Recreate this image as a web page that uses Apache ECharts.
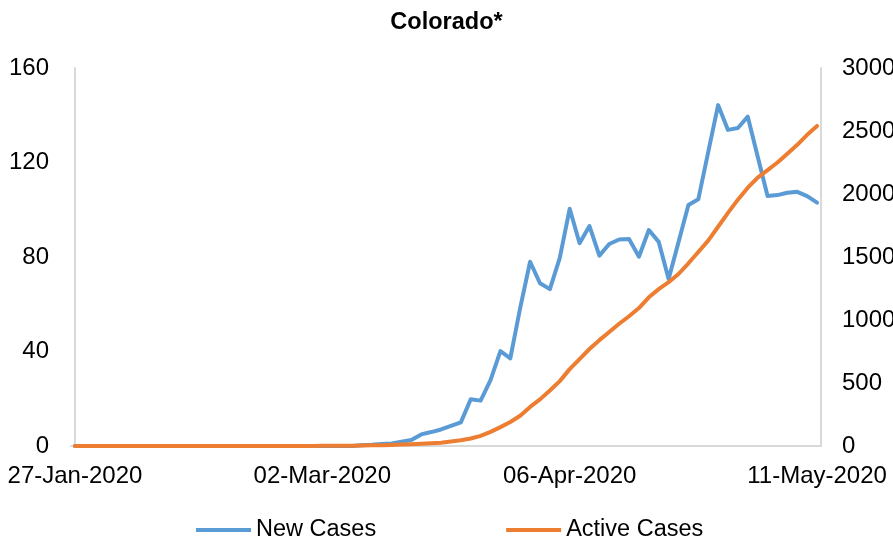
<!DOCTYPE html>
<html>
<head>
<meta charset="utf-8">
<script src="https://cdn.jsdelivr.net/npm/echarts@6/dist/echarts.min.js"></script>
<style>
  html, body { margin: 0; padding: 0; background: #fff; }
  #chart { width: 893px; height: 545px; }
</style>
</head>
<body>
<div id="chart"></div>
<script>
// weekday dates, 27-Jan-2020 .. 11-May-2020
var dates = [
  '27-Jan-2020','28-Jan-2020','29-Jan-2020','30-Jan-2020','31-Jan-2020',
  '03-Feb-2020','04-Feb-2020','05-Feb-2020','06-Feb-2020','07-Feb-2020',
  '10-Feb-2020','11-Feb-2020','12-Feb-2020','13-Feb-2020','14-Feb-2020',
  '17-Feb-2020','18-Feb-2020','19-Feb-2020','20-Feb-2020','21-Feb-2020',
  '24-Feb-2020','25-Feb-2020','26-Feb-2020','27-Feb-2020','28-Feb-2020',
  '02-Mar-2020','03-Mar-2020','04-Mar-2020','05-Mar-2020','06-Mar-2020',
  '09-Mar-2020','10-Mar-2020','11-Mar-2020','12-Mar-2020','13-Mar-2020',
  '16-Mar-2020','17-Mar-2020','18-Mar-2020','19-Mar-2020','20-Mar-2020',
  '23-Mar-2020','24-Mar-2020','25-Mar-2020','26-Mar-2020','27-Mar-2020',
  '30-Mar-2020','31-Mar-2020','01-Apr-2020','02-Apr-2020','03-Apr-2020',
  '06-Apr-2020','07-Apr-2020','08-Apr-2020','09-Apr-2020','10-Apr-2020',
  '13-Apr-2020','14-Apr-2020','15-Apr-2020','16-Apr-2020','17-Apr-2020',
  '20-Apr-2020','21-Apr-2020','22-Apr-2020','23-Apr-2020','24-Apr-2020',
  '27-Apr-2020','28-Apr-2020','29-Apr-2020','30-Apr-2020','01-May-2020',
  '04-May-2020','05-May-2020','06-May-2020','07-May-2020','08-May-2020',
  '11-May-2020'
];

// which dates get a label on the x axis
var labelIdx = [0, 25, 50, 75];

var newCases = [
  0, 0, 0, 0, 0, 0, 0, 0, 0, 0,
  0, 0, 0, 0, 0, 0, 0, 0, 0, 0,
  0, 0, 0, 0, 0, 0, 0, 0, 0, 0.3,
  0.5, 0.8, 1.1, 1.8, 2.5, 4.9, 5.9, 7.0, 8.5, 10.0,
  19.8, 19.2, 27.9, 40.2, 37.1, 58.5, 78.0, 68.9, 66.4, 79.6,
  100.4, 85.8, 93.1, 80.6, 85.5, 87.4, 87.6, 80.1, 91.4, 86.4,
  70.7, 86.3, 102.0, 104.4, 124.4, 144.3, 133.8, 134.6, 139.4, 122.5,
  105.8, 106.2, 107.2, 107.6, 105.8, 103.0
];

var activeCases = [
  0, 0, 0, 0, 0, 0, 0, 0, 0, 0,
  0, 0, 0, 0, 0, 0, 0, 0, 0, 0,
  0, 0, 0, 0, 0, 1, 1, 2, 2, 3,
  5, 6, 8, 11, 14, 17, 21, 26, 35, 45,
  60, 80, 112, 150, 190, 240, 310, 370, 440, 515,
  610, 690, 770, 840, 905, 970, 1030, 1095, 1180, 1245,
  1300, 1365, 1450, 1540, 1630, 1740, 1850, 1955, 2050, 2130,
  2190, 2250, 2320, 2390, 2470, 2540
];

var font = 'Liberation Sans, Arial, sans-serif';
var chart = echarts.init(document.getElementById('chart'));

var option = {
    animation: false,
    textStyle: { fontFamily: font },
    title: {
        text: 'Colorado*',
        left: 'center',
        top: 6,
        textStyle: { fontFamily: font, fontSize: 23.5, fontWeight: 'bold', color: '#000' }
    },
    legend: {
        left: 196,
        top: 518,
        padding: 0,
        icon: 'rect',
        itemWidth: 55,
        itemHeight: 4,
        itemGap: 130,
        textStyle: { fontFamily: font, fontSize: 23.5, color: '#000' },
        data: ['New Cases', 'Active Cases']
    },
    grid: { left: 71, right: 72, top: 68, bottom: 99, outerBoundsMode: 'none', containLabel: false },
    xAxis: {
        type: 'value',
        min: -0.4,
        max: 75.4,
        axisLine: { show: true, lineStyle: { color: '#d9d9d9', width: 2 } },
        axisTick: { show: false },
        splitLine: { show: false },
        axisLabel: {
            customValues: labelIdx,
            margin: 18,
            fontFamily: font,
            fontSize: 24,
            color: '#000',
            formatter: function (v) { return dates[Math.round(v)]; }
        }
    },
    yAxis: [
        {
            type: 'value',
            min: 0,
            max: 160,
            interval: 40,
            axisLine: { show: true, lineStyle: { color: '#d9d9d9', width: 2 } },
            axisTick: { show: false },
            splitLine: { show: false },
            axisLabel: { margin: 22, fontFamily: font, fontSize: 24, color: '#000' }
        },
        {
            type: 'value',
            min: 0,
            max: 3000,
            interval: 500,
            position: 'right',
            axisLine: { show: true, lineStyle: { color: '#d9d9d9', width: 2 } },
            axisTick: { show: false },
            splitLine: { show: false },
            axisLabel: {
                margin: 21, fontFamily: font, fontSize: 24, color: '#000',
                formatter: function (v) { return String(v); }
            }
        }
    ],
    series: [
        {
            name: 'New Cases',
            type: 'line',
            yAxisIndex: 0,
            symbol: 'none',
            color: '#5b9bd5',
            lineStyle: { width: 4, cap: 'round', join: 'round' },
            data: newCases.map(function (v, i) { return [i, v]; })
        },
        {
            name: 'Active Cases',
            type: 'line',
            yAxisIndex: 1,
            symbol: 'none',
            color: '#ed7d31',
            lineStyle: { width: 4, cap: 'round', join: 'round' },
            data: activeCases.map(function (v, i) { return [i, v]; })
        }
    ]
};

chart.setOption(option);
</script>
</body>
</html>
